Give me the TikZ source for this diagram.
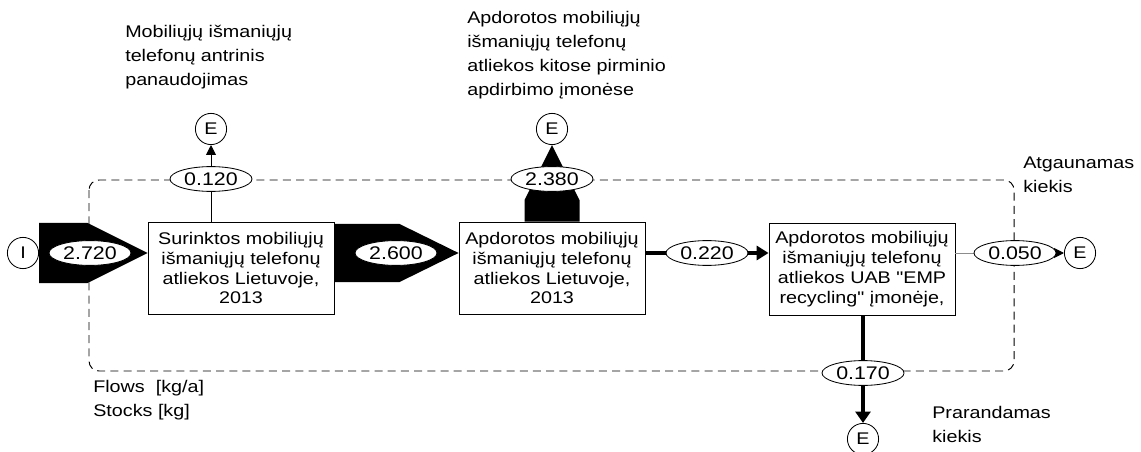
\documentclass[tikz,border=0pt]{standalone}
\usepackage{fontspec}
\setmainfont{Liberation Sans}[FakeStretch=1.17, Ligatures=TeXOff]
\usepackage{tikz}
\usetikzlibrary{shapes.geometric, arrows.meta, calc}
\tikzset{
  procbox/.style={rectangle, draw, fill=white, minimum width=4.65cm,
    minimum height=2.3cm, align=center, inner sep=0pt,
    font=\fontsize{12}{14.2}\selectfont, line width=0.6pt},
  flowlbl/.style={ellipse, draw, fill=white, minimum width=2.05cm,
    minimum height=0.62cm, inner sep=0pt,
    font=\fontsize{13}{14.2}\selectfont, line width=0.6pt},
  envnode/.style={circle, draw, fill=white, minimum size=0.78cm,
    inner sep=0pt, font=\fontsize{12}{14.2}\selectfont, line width=0.6pt},
  note/.style={align=left, anchor=north west, inner sep=0pt,
    font=\fontsize{12}{17}\selectfont},
  sysbound/.style={dash pattern=on 0.2cm off 0.13cm, line width=0.7pt,
    rounded corners=0.25cm, color=black},
  thinflow/.style={line width=0.7pt, -{Triangle[length=7pt, width=7pt]}},
  midflow/.style={line width=2.2pt, -{Triangle[length=8pt, width=10.5pt]}},
  thickflow/.style={line width=2.8pt, -{Triangle[length=8.5pt, width=10pt]}}
}

\begin{document}
\begin{tikzpicture}[x=0.025cm, y=-0.025cm]
  \useasboundingbox (0,0) rectangle (1141,452);

  % System boundary
  \draw[sysbound] (89,180) rectangle (1014,371);

  % Processes
  \node[procbox] (box1) at (241,268) {Surinktos mobiliųjų\\išmaniųjų telefonų\\atliekos Lietuvoje,\\2013};
  \node[procbox] (box2) at (552,268) {Apdorotos mobiliųjų\\išmaniųjų telefonų\\atliekos Lietuvoje,\\2013};
  \node[procbox] (box3) at (862,269) {Apdorotos mobiliųjų\\išmaniųjų telefonų\\atliekos UAB "EMP\\recycling" įmonėje,};

  % Import and export points
  \node[envnode] (inp) at (23,253) {I};
  \node[envnode] (out1) at (211,129) {E};
  \node[envnode] (out2) at (552,129) {E};
  \node[envnode] (out3) at (1080,253) {E};
  \node[envnode] (out4) at (863,439) {E};

  % Flows
  \fill ($(inp.east)+(0,-30)$) -- ($(box1.west |- inp)+(-60,-30)$) -- (box1.west |- inp)
    -- ($(box1.west |- inp)+(-60,30)$) -- ($(inp.east)+(0,30)$) -- cycle;
  \fill ($(box1.east |- inp)+(0,-29)$) -- ($(box2.west |- inp)+(-59,-29)$) -- (box2.west |- inp)
    -- ($(box2.west |- inp)+(-59,29)$) -- ($(box1.east |- inp)+(0,29)$) -- cycle;
  \fill ($(box2.north)+(-27.5,0)$) -- ($(out2.south)+(-27.5,55)$) -- (out2.south)
    -- ($(out2.south)+(27.5,55)$) -- ($(box2.north)+(27.5,0)$) -- cycle;
  \draw[thinflow] (out1 |- box1.north) -- (out1.south);
  \draw[thickflow] (box2.east |- inp) -- (box3.west |- inp);
  \draw[thinflow, draw=black!45, -{Triangle[length=7pt, width=7pt, black]}] (box3.east |- out3) -- (out3.west);
  \draw[midflow] (box3.south -| out4) -- (out4.north);

  % Flow values
  \node[flowlbl] (v1) at (90,253) {2.720};
  \node[flowlbl] (v2) at (396,253) {2.600};
  \node[flowlbl] (v3) at (211,179) {0.120};
  \node[flowlbl] (v4) at (552,179) {2.380};
  \node[flowlbl] (v5) at (707,253) {0.220};
  \node[flowlbl] (v6) at (1015,253) {0.050};
  \node[flowlbl] (v7) at (863,373) {0.170};

  % Notes
  \node[note] (n1) at (125,25) {Mobiliųjų išmaniųjų\\telefonų antrinis\\panaudojimas};
  \node[note] (n2) at (467,11) {Apdorotos mobiliųjų\\išmaniųjų telefonų\\atliekos kitose pirminio\\apdirbimo įmonėse};
  \node[note] (n3) at (1023,157) {Atgaunamas\\kiekis};
  \node[note] (n4) at (932,406) {Prarandamas\\kiekis};
  \node[note] (n5) at (93,380) {Flows~~[kg/a]\\Stocks [kg]};
\end{tikzpicture}
\end{document}
